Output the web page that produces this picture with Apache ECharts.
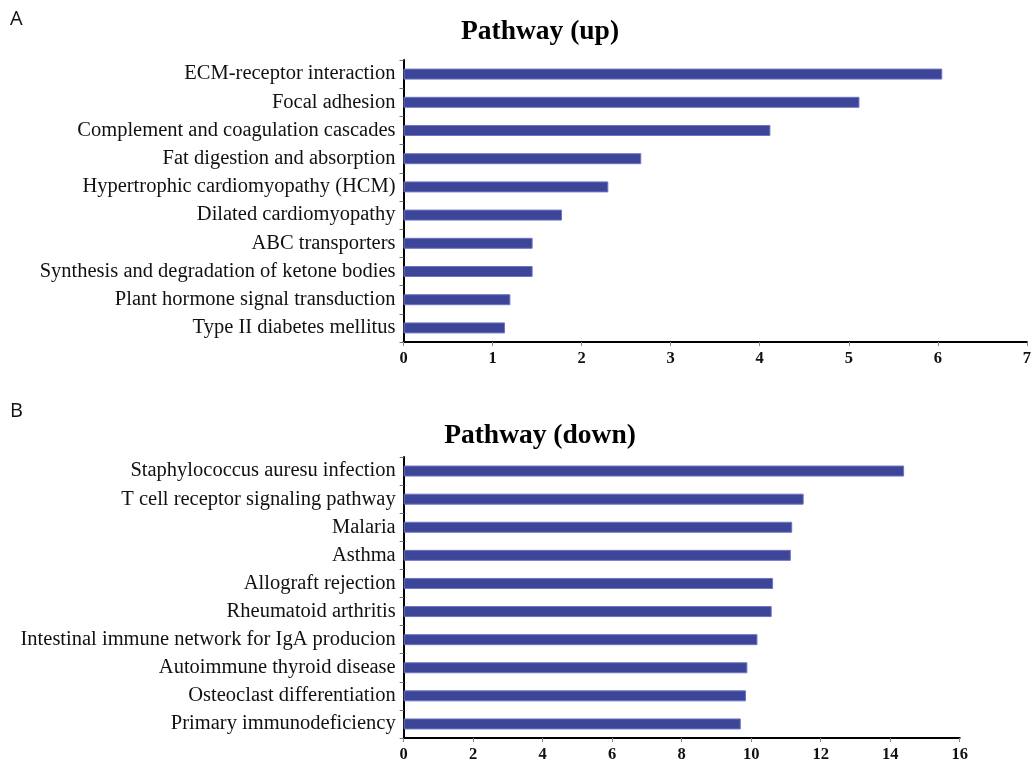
<!DOCTYPE html>
<html>
<head>
<meta charset="utf-8">
<script src="https://cdn.jsdelivr.net/npm/echarts@6/dist/echarts.min.js"></script>
<style>
  html, body { margin: 0; padding: 0; background: #ffffff; }
  #chart { width: 1034px; height: 763px; }
</style>
</head>
<body>
<div id="chart"></div>
<script>
// Enriched pathways, upregulated genes
const upPathways = [
  'ECM-receptor interaction',
  'Focal adhesion',
  'Complement and coagulation cascades',
  'Fat digestion and absorption',
  'Hypertrophic cardiomyopathy (HCM)',
  'Dilated cardiomyopathy',
  'ABC transporters',
  'Synthesis and degradation of ketone bodies',
  'Plant hormone signal transduction',
  'Type II diabetes mellitus'
];
const upScores = [6.05, 5.12, 4.12, 2.67, 2.30, 1.78, 1.45, 1.45, 1.20, 1.14];

// Enriched pathways, downregulated genes
const downPathways = [
  'Staphylococcus auresu infection',
  'T cell receptor signaling pathway',
  'Malaria',
  'Asthma',
  'Allograft rejection',
  'Rheumatoid arthritis',
  'Intestinal immune network for IgA producion',
  'Autoimmune thyroid disease',
  'Osteoclast differentiation',
  'Primary immunodeficiency'
];
const downScores = [14.40, 11.51, 11.18, 11.14, 10.63, 10.59, 10.18, 9.89, 9.85, 9.70];

const upAxisMax = 7, upAxisStep = 1;
const downAxisMax = 16, downAxisStep = 2;

const serif = "'Liberation Serif', 'Times New Roman', serif";
const barColor = '#3d4599';
const barEdge = '#6d74c2';

function valueAxis(gridIndex, max, step) {
  return {
    type: 'value', gridIndex: gridIndex, min: 0, max: max, interval: step,
    splitLine: { show: false },
    axisLine: { show: true, lineStyle: { color: '#000', width: 2 } },
    axisTick: { show: true, length: 4, lineStyle: { color: '#888', width: 1 } },
    axisLabel: { color: '#111', fontFamily: serif, fontWeight: 'bold', fontSize: 16.5, margin: 8 }
  };
}

function categoryAxis(gridIndex, names) {
  return {
    type: 'category', gridIndex: gridIndex, data: names, inverse: true,
    axisLine: { show: true, lineStyle: { color: '#000', width: 2 } },
    axisTick: { show: true, length: 4, lineStyle: { color: '#777', width: 1 } },
    axisLabel: { color: '#111', fontFamily: serif, fontSize: 20.5, margin: 8 }
  };
}

function barSeries(index, values) {
  return {
    type: 'bar', xAxisIndex: index, yAxisIndex: index, data: values,
    barWidth: 11,
    itemStyle: { color: barColor, borderColor: barEdge, borderWidth: 1 },
    silent: true
  };
}

const chart = echarts.init(document.getElementById('chart'), null, { renderer: 'canvas' });
chart.setOption({
  backgroundColor: '#ffffff',
  animation: false,
  title: [
    { text: 'A', left: 10, top: 9, padding: 0,
      textStyle: { fontFamily: "'Open Sans', sans-serif", fontWeight: 'normal', fontSize: 20, color: '#111' } },
    { text: 'Pathway (up)', left: 540, top: 18, textAlign: 'center', padding: 0,
      textStyle: { fontFamily: serif, fontWeight: 'bold', fontSize: 27.5, color: '#000' } },
    { text: 'B', left: 10, top: 401, padding: 0,
      textStyle: { fontFamily: "'Open Sans', sans-serif", fontWeight: 'normal', fontSize: 20, color: '#111' } },
    { text: 'Pathway (down)', left: 540, top: 422, textAlign: 'center', padding: 0,
      textStyle: { fontFamily: serif, fontWeight: 'bold', fontSize: 27.5, color: '#000' } }
  ],
  grid: [
    { left: 403.5, top: 60, width: 626.5, height: 282, containLabel: false },
    { left: 403.7, top: 457, width: 556, height: 282, containLabel: false }
  ],
  xAxis: [valueAxis(0, upAxisMax, upAxisStep), valueAxis(1, downAxisMax, downAxisStep)],
  yAxis: [categoryAxis(0, upPathways), categoryAxis(1, downPathways)],
  series: [barSeries(0, upScores), barSeries(1, downScores)]
});
</script>
</body>
</html>
